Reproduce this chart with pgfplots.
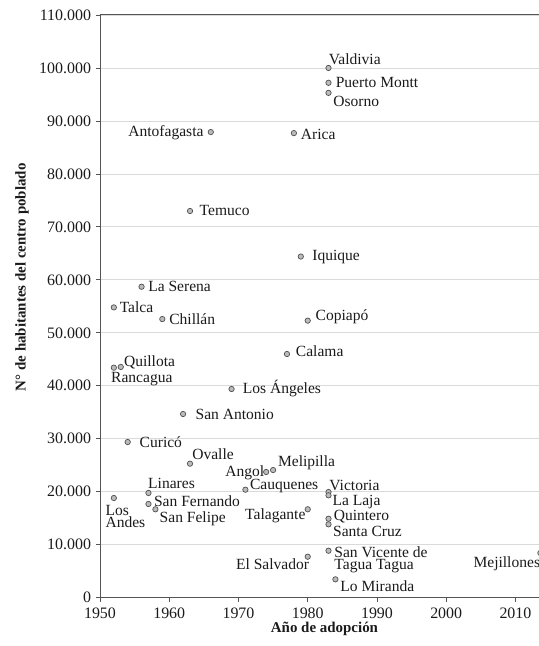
\documentclass[border=0pt]{standalone}
\usepackage{fontspec}
\setmainfont{Liberation Serif}
\usepackage{pgfplots}
\pgfplotsset{compat=1.18}
\definecolor{axisgray}{HTML}{555555}
\definecolor{gridgray}{HTML}{DADADA}
\definecolor{markfill}{HTML}{BBBBBB}
\definecolor{markedge}{HTML}{505050}
\definecolor{txt}{HTML}{1A1A1A}
\begin{document}
\begin{tikzpicture}
\begin{axis}[
 name=ax,
 scale only axis,
 width=439bp, height=582.7bp,
 xmin=1950, xmax=2013.4, ymin=0, ymax=110000,
 axis x line*=bottom, axis y line*=left,
 axis line style={axisgray, line width=1pt, -},
 xtick={1950,1960,...,2010},
 ytick={0,10000,...,110000},
 tick align=outside,
 major tick length=4bp,
 tick style={axisgray, line width=0.8pt},
 ymajorgrids, grid style={gridgray, line width=0.8pt},
 /pgf/number format/assume math mode=true,
 xticklabel style={yshift=-3bp, /pgf/number format/1000 sep={}},
 yticklabel style={xshift=-1.5bp, /pgf/number format/.cd, 1000 sep={.}, fixed},
 scaled y ticks=false,
 tick label style={font=\fontsize{16}{18}\selectfont, text=txt},
 xlabel={Año de adopción}, ylabel={N° de habitantes del centro poblado},
 every axis x label/.style={at={(rel axis cs:0.5,0)}, anchor=center, xshift=5bp, yshift=-31.5bp},
 every axis y label/.style={at={(rel axis cs:0,0.55)}, xshift=-78bp, rotate=90, anchor=center},
 label style={font=\fontsize{15}{17}\selectfont\bfseries, text=txt},
 clip=false,
]
\draw[axisgray, line width=1pt] (rel axis cs:0,1) -- (rel axis cs:1,1);
\addplot[only marks, mark=*, mark size=2.7pt,
 mark options={fill=markfill, draw=markedge, line width=0.7pt},
 point meta=explicit symbolic,
 nodes near coords,
 visualization depends on={value \thisrow{anc} \as \myanc},
 visualization depends on={\thisrow{dx} \as \mydx},
 visualization depends on={\thisrow{dy} \as \mydy},
 every node near coord/.append style={anchor=\myanc, xshift=\mydx, yshift=\mydy, inner sep=0pt, font=\fontsize{15.6}{17}\selectfont, text=txt},
] table[col sep=comma, x=x, y=y, meta=lab] {
x,y,anc,dx,dy,lab
1983,100000,base west,0,3,Valdivia
1983,97200,base west,7,-4.5,Puerto Montt
1983,95300,base west,4.6,-13.8,Osorno
1978,87700,base west,6.7,-6.2,Arica
1966,87900,base east,-7,-4.7,Antofagasta
1963,73000,base west,9.4,-4.3,Temuco
1979,64400,base west,11.3,-3.8,Iquique
1980,52300,base west,7.6,-0.3,Copiapó
1977,46000,base west,8.7,-2.4,Calama
1969,39400,base west,11,-5,Los Ángeles
1956,58700,base west,6.4,-4.7,La Serena
1952,54800,base west,5.6,-5,Talca
1959,52600,base west,6.7,-5.7,Chillán
1953,43560,base west,3,0,Quillota
1952,43420,base west,-3,-15.3,Rancagua
1962,34680,base west,12.3,-5.5,San Antonio
1954,29390,base west,11.7,-6,Curicó
1963,25300,base west,2,3.7,Ovalle
1974,23730,base east,-1.7,-4.7,Angol
1975,24100,base west,4.6,3.3,Melipilla
1971,20390,base west,4.3,-0.3,Cauquenes
1957,19770,base west,-0.6,4.7,Linares
1957,17690,base west,5.3,-2.7,San Fernando
1958,16690,base west,4,-13.7,San Felipe
1983,19950,base west,0.6,2,Victoria
1983,19330,base west,3.7,-10.7,La Laja
1980,16690,base east,-2,-10.7,Talagante
1983,14910,base west,5,-1.3,Quintero
1983,13850,base west,4.3,-12.4,Santa Cruz
1980,7740,base east,1.7,-13.3,El Salvador
1984,3470,base west,4.7,-12.4,Lo Miranda
2013.6,8440,base east,0,-15,Mejillones
};
\addplot[only marks, mark=*, mark size=2.7pt,
 mark options={fill=markfill, draw=markedge, line width=0.7pt},
 point meta=explicit symbolic,
 nodes near coords,
 visualization depends on={\thisrow{dx} \as \mydx},
 visualization depends on={\thisrow{dy} \as \mydy},
 every node near coord/.append style={anchor=north west, xshift=\mydx, yshift=\mydy, inner sep=0pt, align=left, font=\fontsize{15.6}{12.5}\selectfont, text=txt},
] table[col sep=comma, x=x, y=y, meta=lab] {
x,y,dx,dy,lab
1952,18820,-8.7,-7,{Los\\Andes}
1983,8870,5.6,4.7,{San Vicente de\\Tagua Tagua}
};
\end{axis}
\pgfresetboundingbox
\path ([xshift=-100bp,yshift=-48.3bp]ax.south west) rectangle ([yshift=15bp]ax.north east);
\end{tikzpicture}
\end{document}
